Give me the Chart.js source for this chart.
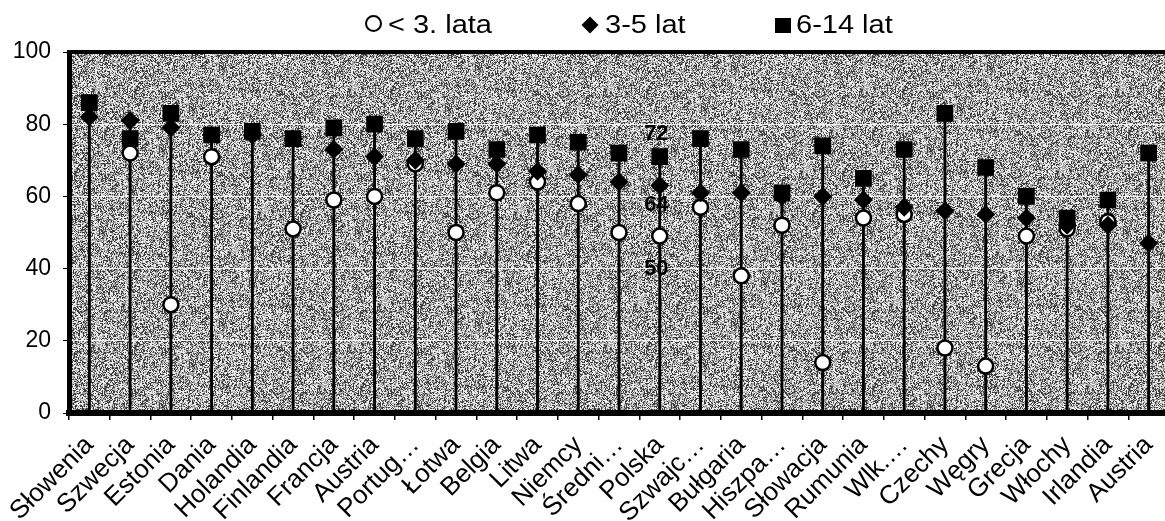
<!DOCTYPE html>
<html>
<head>
<meta charset="utf-8">
<script src="https://cdn.jsdelivr.net/npm/chart.js@4.4.1/dist/chart.umd.min.js"></script>
<style>
html,body{margin:0;padding:0;overflow:hidden;background:#fff}
body{width:1165px;height:521px;position:relative;font-family:'Liberation Sans',Arial,sans-serif}
#c{position:absolute;left:0;top:0}
.lt{position:absolute;top:12px;font-size:25px;line-height:25px;color:#000;transform:scaleX(1.16);transform-origin:0 0;white-space:nowrap}
.mk{position:absolute;box-sizing:border-box}
</style>
</head>
<body>
<canvas id="c" width="1169" height="521"></canvas>
<!-- legenda -->
<div class="mk" style="left:365px;top:15px;width:17px;height:17px;border:2.5px solid #000;border-radius:50%;background:#fff"></div>
<div class="lt" style="left:388px">&lt; 3. lata</div>
<div class="mk" style="left:584px;top:19px;width:12px;height:12px;background:#000;transform:rotate(45deg)"></div>
<div class="lt" style="left:605px">3-5 lat</div>
<div class="mk" style="left:775px;top:18px;width:16px;height:15px;background:#000"></div>
<div class="lt" style="left:796px">6-14 lat</div>
<script>
var categories = ['Słowenia','Szwecja','Estonia','Dania','Holandia','Finlandia','Francja','Austria','Portug…','Łotwa','Belgia','Litwa','Niemcy','Średni…','Polska','Szwajc…','Bułgaria','Hiszpa…','Słowacja','Rumunia','Wlk.…','Czechy','Węgry','Grecja','Włochy','Irlandia','Austria'];
// < 3. lata
var under3 = [null,72,30,71,null,51,59,60,69,50,61,64,58,50,49,57,38,52,14,54,55,18,13,49,51,53,null];
// 3-5 lat
var age3to5 = [82,81,79,77,77,76,73,71,70,69,69,67,66,64,63,61,61,60,60,59,57,56,55,54,52,52,47];
// 6-14 lat
var age6to14 = [86,76,83,77,78,76,79,80,76,78,73,77,75,72,71,76,73,61,74,65,73,83,68,60,54,59,72];
var yTicks = [0,20,40,60,80,100];
// opisy przy średniej
var avgLabels = ['72','64','50'];
var avgValues = [72,64,50];

// linie pionowe - od najwyższego punktu do zera
var stems = [];
for (var i = 0; i < categories.length; i++) {
	var m = 0;
	[under3[i], age3to5[i], age6to14[i]].forEach(function(v) { if (v != null && v > m) m = v; });
	stems.push(m);
}

// szare, ziarniste tło
function makeNoise() {
	var c = document.createElement('canvas'); c.width = 256; c.height = 256;
	var g = c.getContext('2d');
	var img = g.createImageData(256, 256);
	var seed = 987654;
	for (var i = 0; i < 256*256; i++) {
		seed = (seed * 1103515245 + 12345) & 0x7fffffff;
		var r = seed / 0x7fffffff;
		var v = r < 0.30 ? 60 : (r < 0.60 ? 160 : 235);
		img.data[i*4] = v; img.data[i*4+1] = v; img.data[i*4+2] = v; img.data[i*4+3] = 255;
	}
	g.putImageData(img, 0, 0);
	return c;
}
var noise = makeNoise();

var bgPlugin = {
	id: 'bg',
	beforeDraw: function(chart) {
		var a = chart.chartArea, ctx = chart.ctx;
		ctx.save();
		ctx.fillStyle = ctx.createPattern(noise, 'repeat');
		ctx.fillRect(a.left, a.top, a.right - a.left, a.bottom - a.top);
		ctx.restore();
	},
	beforeDatasetsDraw: function(chart) {
		var ctx = chart.ctx, xs = chart.scales.x, ys = chart.scales.y;
		var x = (xs.getPixelForValue(13) + xs.getPixelForValue(14)) / 2 + 17;
		var off = [-19, 23, 36];
		ctx.save();
		ctx.font = 'bold 22px "Liberation Sans", Arial, sans-serif';
		ctx.fillStyle = '#000';
		ctx.textAlign = 'center';
		ctx.textBaseline = 'middle';
		for (var i = 0; i < avgLabels.length; i++) {
			ctx.fillText(avgLabels[i], x, ys.getPixelForValue(avgValues[i]) + off[i]);
		}
		ctx.restore();
	},
	afterDraw: function(chart) {
		var a = chart.chartArea, ctx = chart.ctx;
		ctx.save();
		ctx.fillStyle = '#000';
		ctx.fillRect(a.left - 2, a.top - 2, a.right - a.left + 2, 4);
		ctx.restore();
	}
};

var ctx = document.getElementById('c').getContext('2d');
var font = '"Liberation Sans", Arial, sans-serif';
var myChart = new Chart(ctx, {
	data: {
		labels: categories,
		datasets: [
			{type: 'line', label: '< 3. lata', data: under3, showLine: false, pointStyle: 'circle', pointRadius: 7.5, pointBorderWidth: 2.5, pointBackgroundColor: '#fff', pointBorderColor: '#000', order: 3},
			{type: 'line', label: '3-5 lat', data: age3to5, showLine: false, pointStyle: 'rectRot', pointRadius: 9.5, pointBorderWidth: 0, pointBackgroundColor: '#000', pointBorderColor: '#000', order: 2},
			{type: 'line', label: '6-14 lat', data: age6to14, showLine: false, pointStyle: 'rect', pointRadius: 11.8, pointBorderWidth: 0, pointBackgroundColor: '#000', pointBorderColor: '#000', order: 1},
			{type: 'bar', label: 'stem', data: stems, backgroundColor: '#000', barThickness: 2.2, order: 4}
		]
	},
	options: {
		responsive: false,
		animation: false,
		events: [],
		layout: {padding: 0, autoPadding: false},
		plugins: {legend: {display: false}, tooltip: {enabled: false}},
		scales: {
			x: {
				offset: true,
				afterFit: function(s) { s.height = 108; s.paddingLeft = 0; s.paddingRight = 0; },
				grid: {offset: true, drawOnChartArea: false, drawTicks: true, tickLength: 7, tickColor: '#000', lineWidth: 1.5},
				border: {color: '#000', width: 6},
				ticks: {color: '#000', font: {family: font, size: 26}, maxRotation: 45, minRotation: 45, autoSkip: false, padding: 10}
			},
			y: {
				min: 0, max: 100,
				afterFit: function(s) { s.width = 69; s.paddingTop = 52; },
				afterBuildTicks: function(s) { s.ticks = yTicks.map(function(v) { return {value: v}; }); },
				grid: {color: 'rgba(255,255,255,0.85)', lineWidth: 1, tickLength: 6, tickColor: '#000'},
				border: {color: '#000', width: 5},
				ticks: {color: '#000', font: {family: font, size: 23}, padding: 12}
			}
		}
	},
	plugins: [bgPlugin]
});
</script>
</body>
</html>
